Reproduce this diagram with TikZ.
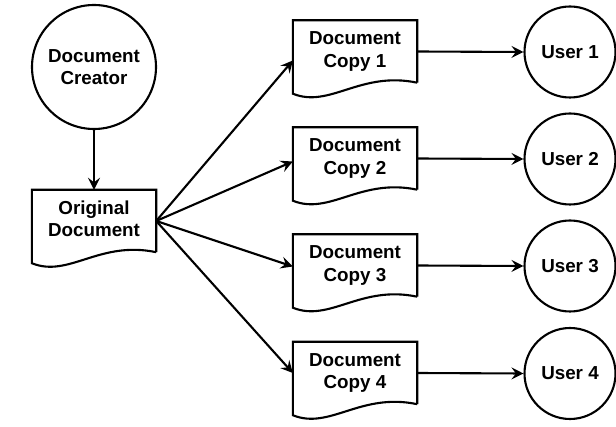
\documentclass[tikz,border=0pt]{standalone}
\usepackage{fontspec}
\setmainfont{Liberation Sans}
\usetikzlibrary{arrows.meta}
\tikzset{
  x=1pt, y=-1pt,
  line/.style={line width=2.1pt, black},
  arr/.style={line, -{Stealth[length=12pt,width=12pt,inset=4.5pt]}},
  lbl/.style={font=\fontsize{18.8}{22.5}\selectfont\bfseries, align=center, text=black},
  docbox/.style={lbl, minimum width=124pt, minimum height=62pt, inner sep=0pt},
  bigcirc/.style={lbl, circle, line, draw, minimum size=124pt, inner sep=0pt},
  usercirc/.style={lbl, circle, line, draw, minimum size=91pt, inner sep=0pt},
}
\newcommand\docoutline[1]{%
  \draw[line] (#1.south east) -- (#1.north east) -- (#1.north west) -- ([yshift=-11pt]#1.south west)
    .. controls +(37,15) and +(-57,-12) .. (#1.south east);
}
\begin{document}
\begin{tikzpicture}
\useasboundingbox[fill=white] (0,0) rectangle (616,427);

\node[bigcirc] (creator) at (94,67) {Document\\Creator};
\node[docbox] (orig) at (94,221) {\raisebox{3pt}{\begin{tabular}{@{}c@{}}Original\\Document\end{tabular}}};
\docoutline{orig}

\foreach \i/\y in {1/51.5,2/158.5,3/265.5,4/373}{
  \node[docbox] (copy\i) at (355,\y) {\raisebox{3pt}{\begin{tabular}{@{}c@{}}Document\\Copy \i\end{tabular}}};
  \docoutline{copy\i}
  \node[usercirc] (user\i) at (570,\y+0.5) {User \i};
  \draw[arr] (copy\i.east) -- (user\i.west);
}

\draw[arr] (creator.south) -- (orig.north);
\draw[arr] (orig.east) -- ([yshift=-9pt]copy1.west);
\draw[arr] (orig.east) -- ([yshift=-3pt]copy2.west);
\draw[arr] (orig.east) -- ([yshift=-1pt]copy3.west);
\draw[arr] (orig.east) -- (copy4.west);
\end{tikzpicture}
\end{document}
